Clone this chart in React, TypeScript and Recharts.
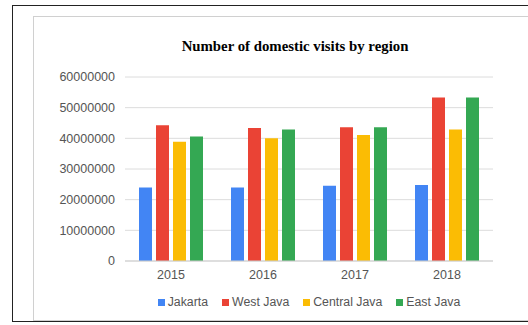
import { BarChart, Bar, XAxis, YAxis, CartesianGrid } from 'recharts';

const YEARS = ['2015', '2016', '2017', '2018'];
const JAKARTA = [24000000, 24000000, 24500000, 24800000];
const WEST_JAVA = [44300000, 43400000, 43600000, 53300000];
const CENTRAL_JAVA = [38900000, 40000000, 41100000, 42900000];
const EAST_JAVA = [40600000, 42900000, 43600000, 53300000];
const Y_TICKS = [0, 10000000, 20000000, 30000000, 40000000, 50000000, 60000000];

const SERIES = [
  { key: 'jakarta', name: 'Jakarta', color: '#4285f4' },
  { key: 'westJava', name: 'West Java', color: '#ea4335' },
  { key: 'centralJava', name: 'Central Java', color: '#fbbc04' },
  { key: 'eastJava', name: 'East Java', color: '#34a853' },
];

const data = YEARS.map((year, i) => ({
  year,
  jakarta: JAKARTA[i],
  westJava: WEST_JAVA[i],
  centralJava: CENTRAL_JAVA[i],
  eastJava: EAST_JAVA[i],
}));

const FONT = '"Liberation Sans", Arial, sans-serif';

// legend drawn as plain html under the plot, same as the sheet export
function ChartLegend() {
  return (
    <div
      style={{
        position: 'absolute',
        left: 125,
        width: 368,
        top: 295,
        display: 'flex',
        justifyContent: 'center',
        fontFamily: FONT,
        fontSize: 12.3,
        color: '#555',
      }}
    >
      {SERIES.map((s) => (
        <div key={s.key} style={{ display: 'flex', alignItems: 'center', margin: '0 7px' }}>
          <span style={{ width: 7, height: 7, background: s.color, marginRight: 3, display: 'inline-block' }} />
          <span>{s.name}</span>
        </div>
      ))}
    </div>
  );
}

export default function App() {
  return (
    <div style={{ position: 'absolute', left: 0, top: 0, width: 528, height: 325, background: '#fff', overflow: 'hidden' }}>
      {/* outer black frame, cut off at the right */}
      <div style={{ position: 'absolute', left: 12, top: 5, width: 540, height: 317, border: '1.5px solid #222', boxSizing: 'border-box' }} />
      {/* inner gray frame */}
      <div style={{ position: 'absolute', left: 33, top: 16, width: 520, height: 305, border: '1px solid #d0d0d0', boxSizing: 'border-box' }} />
      <div
        style={{
          position: 'absolute',
          left: 95,
          width: 400,
          top: 38,
          textAlign: 'center',
          fontFamily: '"Liberation Serif", "Times New Roman", serif',
          fontWeight: 'bold',
          fontSize: 14.8,
          color: '#000',
        }}
      >
        Number of domestic visits by region
      </div>
      <div style={{ position: 'absolute', left: 0, top: 0 }}>
        <BarChart
          width={528}
          height={325}
          data={data}
          margin={{ top: 77, right: 35, bottom: 34, left: 0 }}
          barSize={13}
          barGap={4}
        >
          <CartesianGrid vertical={false} stroke="#dcdcdc" />
          <XAxis
            dataKey="year"
            height={30}
            axisLine={{ stroke: '#cfcfcf' }}
            tickLine={false}
            tickSize={0}
            tickMargin={9}
            tick={{ fill: '#555', fontSize: 12.5, fontFamily: FONT }}
          />
          <YAxis
            width={125}
            domain={[0, 60000000]}
            ticks={Y_TICKS}
            axisLine={false}
            tickLine={false}
            tickSize={0}
            tickMargin={10}
            tick={{ fill: '#555', fontSize: 12.5, fontFamily: FONT }}
          />
          {SERIES.map((s) => (
            <Bar key={s.key} dataKey={s.key} name={s.name} fill={s.color} isAnimationActive={false} />
          ))}
        </BarChart>
      </div>
      <ChartLegend />
    </div>
  );
}
